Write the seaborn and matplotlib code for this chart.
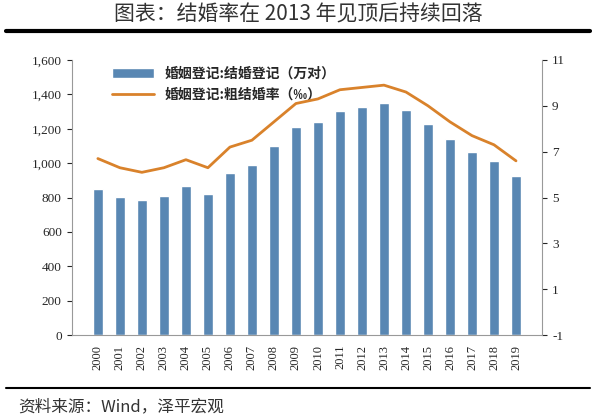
import matplotlib
matplotlib.use("Agg")
import matplotlib.pyplot as plt
import seaborn as sns
import pandas as pd
import numpy as np

years = [str(y) for y in range(2000, 2020)]
registrations = [848, 805, 786, 811, 867, 823, 945, 991, 1098, 1212, 1241, 1302, 1324, 1347, 1307, 1225, 1142, 1063, 1014, 927]
rate = [6.7, 6.3, 6.1, 6.3, 6.65, 6.3, 7.2, 7.5, 8.3, 9.1, 9.3, 9.7, 9.8, 9.9, 9.6, 9.0, 8.3, 7.7, 7.3, 6.6]

sns.set_style("white")
plt.rcParams['font.family'] = ['Noto Sans CJK SC', 'DejaVu Sans']

df = pd.DataFrame({"year": years, "reg": registrations, "rate": rate})
fig = plt.figure(figsize=(5.96, 4.19), dpi=100)
ax = fig.add_axes([0.12, 0.20, 0.79, 0.657])
sns.barplot(data=df, x="year", y="reg", color="#4A88C2", width=0.45, ax=ax, label="婚姻登记:结婚登记（万对）")
ax.set_ylim(0, 1600)
ax.set_yticks(range(0, 1601, 200))
ax.set_yticklabels([f"{v:,}" for v in range(0, 1601, 200)], fontsize=9.5, family="Liberation Serif")
ax.set_xlabel(""); ax.set_ylabel("")
ax.tick_params(axis='x', labelrotation=90, labelsize=9)
for t in ax.get_xticklabels():
    t.set_family("Liberation Serif")
ax2 = ax.twinx()
sns.lineplot(x=np.arange(len(years)), y=rate, color="#D9822B", lw=2, ax=ax2, label="婚姻登记:粗结婚率（‰）")
ax2.set_ylim(-1, 11)
ax2.set_yticks(range(-1, 12, 2))
ax2.set_yticklabels([str(v) for v in range(-1, 12, 2)], fontsize=9.5, family="Liberation Serif")
for a in (ax, ax2):
    for s in a.spines.values():
        s.set_visible(False)
ax.spines['left'].set_visible(True); ax.spines['left'].set_color('#999999')
ax.spines['bottom'].set_visible(True); ax.spines['bottom'].set_color('#999999')
ax2.spines['right'].set_visible(True); ax2.spines['right'].set_color('#999999')
h1, l1 = ax.get_legend_handles_labels()
h2, l2 = ax2.get_legend_handles_labels()
if ax2.get_legend(): ax2.get_legend().remove()
if ax.get_legend(): ax.get_legend().remove()
ax.legend(h1 + h2, l1 + l2, loc="upper left", bbox_to_anchor=(0.06, 1.02), frameon=False,
          prop={"size": 10, "weight": "bold", "family": ["Noto Sans CJK SC"]}, handlelength=3)
fig.text(0.5, 0.965, "图表：结婚率在 2013 年见顶后持续回落", ha="center", va="center", fontsize=15, color="#333333",
         family=["Noto Sans CJK SC"])
fig.add_artist(plt.Line2D([0.01, 0.99], [0.925, 0.925], color="black", lw=3))
fig.add_artist(plt.Line2D([0.01, 0.99], [0.075, 0.075], color="black", lw=1.5))
fig.text(0.03, 0.03, "资料来源：Wind，泽平宏观", fontsize=12, style="italic", color="#333333", va="center",
         family=["Noto Sans CJK SC"])
fig.savefig("out.png", dpi=100)
